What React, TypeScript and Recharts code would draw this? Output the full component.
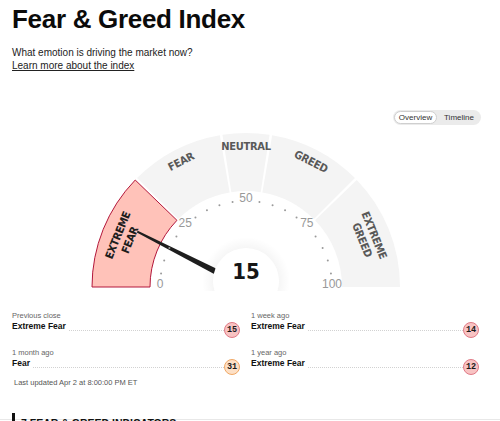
import React from "react";
import { PieChart, Pie, Cell, RadialBarChart, RadialBar, PolarAngleAxis } from "recharts";

const ZONE_NAMES = ["EXTREME FEAR", "FEAR", "NEUTRAL", "GREED", "EXTREME GREED"];
const ZONE_SPANS = [25, 20, 10, 20, 25];
const SCALE_TICKS = [0, 5, 10, 15, 20, 25, 30, 35, 40, 45, 50, 55, 60, 65, 70, 75, 80, 85, 90, 95, 100];
const SCALE_LABELS = [0, 25, 50, 75, 100];
const CURRENT_VALUE = 15;

const HISTORY_PERIODS = ["Previous close", "1 week ago", "1 month ago", "1 year ago"];
const HISTORY_RATINGS = ["Extreme Fear", "Extreme Fear", "Fear", "Extreme Fear"];
const HISTORY_VALUES = [15, 14, 31, 12];

const CX = 246;
const CY = 287;
const RAD = Math.PI / 180;
const SANS = "'Liberation Sans', Arial, sans-serif";
const NARROW = "'Liberation Sans Narrow', 'DejaVu Sans Condensed', sans-serif";

const polar = (cx: number, cy: number, r: number, deg: number) => ({
  x: cx + r * Math.cos(deg * RAD),
  y: cy - r * Math.sin(deg * RAD),
});

// which zone the current value falls into
let acc = 0;
const activeZone = ZONE_SPANS.findIndex((s) => (acc += s) > CURRENT_VALUE);

const zoneData = ZONE_SPANS.map((span, i) => ({ name: ZONE_NAMES[i], span }));
const needleData = [{ name: "now", value: CURRENT_VALUE }];

const badgeColors = (v: number) =>
  v < 25 ? { bg: "#f8c3c3", border: "#e07a86" } : v < 45 ? { bg: "#fde0c6", border: "#f0a865" } : { bg: "#eee", border: "#bbb" };

function renderZoneLabel(props: any) {
  const { cx, cy, midAngle, index } = props;
  const lines = ZONE_NAMES[index].split(" ");
  const radii = lines.length > 1 ? [138, 125] : [141];
  const rot = 90 - midAngle;
  const color = index === activeZone ? "#1d1d1d" : "#595959";
  return (
    <g>
      {lines.map((line, j) => {
        const p = polar(cx, cy, radii[j], midAngle);
        return (
          <text
            key={j}
            x={p.x}
            y={p.y}
            transform={`rotate(${rot} ${p.x} ${p.y})`}
            textAnchor="middle"
            dominantBaseline="central"
            fontFamily={NARROW}
            fontWeight={700}
            fontSize={11}
            letterSpacing={-0.3}
            fill={color}
          >
            {line}
          </text>
        );
      })}
    </g>
  );
}

function renderScaleTick(props: any) {
  const { x, y, payload } = props;
  if (SCALE_LABELS.includes(payload.value)) {
    return (
      <text x={x} y={y - 3} textAnchor="middle" dominantBaseline="central" fontFamily={SANS} fontSize={12} fill="#999">
        {payload.value}
      </text>
    );
  }
  return <circle cx={x} cy={y} r={1} fill="#9a9a9a" />;
}

function Needle(props: any) {
  const { cx, cy, endAngle, payload } = props;
  const a = endAngle;
  const px = Math.sin(a * RAD);
  const py = Math.cos(a * RAD);
  const base = polar(cx, cy, 20, a);
  const tip = polar(cx, cy, 122, a);
  const pts = [
    [base.x + px * 3.2, base.y + py * 3.2],
    [tip.x + px * 1, tip.y + py * 1],
    [tip.x - px * 1, tip.y - py * 1],
    [base.x - px * 3.2, base.y - py * 3.2],
  ]
    .map((p) => p.join(","))
    .join(" ");
  return (
    <g>
      <defs>
        <radialGradient id="hubShadow">
          <stop offset="0.72" stopColor="#000" stopOpacity={0.04} />
          <stop offset="1" stopColor="#000" stopOpacity={0} />
        </radialGradient>
      </defs>
      <polygon points={pts} fill="#1e1e1e" />
      <circle cx={cx} cy={cy - 6} r={44} fill="url(#hubShadow)" />
      <circle cx={cx} cy={cy - 6} r={33} fill="#fff" />
      <text
        x={cx}
        y={cy - 16}
        textAnchor="middle"
        dominantBaseline="central"
        fontFamily="'DejaVu Sans', sans-serif"
        fontStretch="condensed"
        fontWeight={700}
        fontSize={22}
        fill="#161616"
      >
        {payload.value}
      </text>
    </g>
  );
}

export default function App() {
  return (
    <div
      style={{
        position: "absolute",
        left: 0,
        top: 0,
        width: 500,
        height: 421,
        overflow: "hidden",
        background: "#fff",
        fontFamily: SANS,
        color: "#111",
      }}
    >
      <div style={{ position: "absolute", left: 12, top: 6, fontSize: 26, lineHeight: "26px", fontWeight: 700, letterSpacing: -0.3, color: "#0b0b0b" }}>
        Fear &amp; Greed Index
      </div>
      <div style={{ position: "absolute", left: 12, top: 47, fontSize: 10, lineHeight: "12px", color: "#222" }}>
        What emotion is driving the market now?
      </div>
      <div style={{ position: "absolute", left: 12, top: 60, fontSize: 10, lineHeight: "12px", color: "#222", textDecoration: "underline" }}>
        Learn more about the index
      </div>

      {/* overview / timeline toggle */}
      <div style={{ position: "absolute", left: 393, top: 110, width: 88, height: 15, borderRadius: 8, background: "#ebebeb", fontSize: 8 }}>
        <div
          style={{
            position: "absolute",
            left: 1,
            top: 1,
            width: 43,
            height: 13,
            boxSizing: "border-box",
            borderRadius: 7,
            background: "#fff",
            border: "1px solid #cfcfcf",
            textAlign: "center",
            lineHeight: "11px",
            color: "#333",
          }}
        >
          Overview
        </div>
        <div style={{ position: "absolute", left: 46, top: 1, width: 40, textAlign: "center", lineHeight: "13px", color: "#333" }}>Timeline</div>
      </div>

      <div style={{ position: "absolute", left: 0, top: 0 }}>
        <PieChart width={500} height={291} margin={{ top: 0, right: 0, bottom: 0, left: 0 }}>
          <Pie
            data={zoneData}
            dataKey="span"
            cx={CX}
            cy={CY}
            startAngle={180}
            endAngle={0}
            innerRadius={96}
            outerRadius={154}
            paddingAngle={1}
            label={renderZoneLabel}
            labelLine={false}
            isAnimationActive={false}
          >
            {zoneData.map((d, i) => (
              <Cell
                key={d.name}
                fill={i === activeZone ? "#ffc2b9" : "#f4f4f4"}
                stroke={i === activeZone ? "#b3173b" : "none"}
                strokeWidth={1}
              />
            ))}
          </Pie>
        </PieChart>
      </div>

      <div style={{ position: "absolute", left: 0, top: 0 }}>
        <RadialBarChart
          width={500}
          height={291}
          cx={CX}
          cy={CY}
          innerRadius={0}
          outerRadius={78}
          startAngle={180}
          endAngle={0}
          data={needleData}
          margin={{ top: 0, right: 0, bottom: 0, left: 0 }}
        >
          <PolarAngleAxis
            type="number"
            domain={[0, 100]}
            ticks={SCALE_TICKS as any}
            tickCount={21}
            tickSize={8}
            axisLine={false}
            tickLine={false}
            tick={renderScaleTick}
          />
          <RadialBar dataKey="value" shape={Needle} isAnimationActive={false} />
        </RadialBarChart>
      </div>

      {/* history */}
      {HISTORY_PERIODS.map((period, i) => {
        const col = i % 2;
        const row = Math.floor(i / 2);
        const c = badgeColors(HISTORY_VALUES[i]);
        return (
          <div key={period} style={{ position: "absolute", left: col ? 251 : 12, top: row ? 348 : 311, width: 228 }}>
            <div style={{ fontSize: 7.5, lineHeight: "9px", color: "#666" }}>{period}</div>
            <div style={{ display: "flex", alignItems: "flex-start", height: 12 }}>
              <div style={{ fontSize: 8.5, lineHeight: "12px", fontWeight: 700, whiteSpace: "nowrap", paddingRight: 3, color: "#111" }}>
                {HISTORY_RATINGS[i]}
              </div>
              <div style={{ flex: 1, height: 0, marginTop: 10, borderTop: "1px dotted #d2d2d2" }} />
              <div
                style={{
                  width: 16,
                  height: 16,
                  marginTop: 2,
                  flexShrink: 0,
                  boxSizing: "border-box",
                  borderRadius: "50%",
                  background: c.bg,
                  border: `1px solid ${c.border}`,
                  fontFamily: "'Liberation Mono', monospace",
                  fontWeight: 700,
                  fontSize: 8.5,
                  lineHeight: "14px",
                  textAlign: "center",
                  color: "#1a1a1a",
                }}
              >
                {HISTORY_VALUES[i]}
              </div>
            </div>
          </div>
        );
      })}

      <div style={{ position: "absolute", left: 14, top: 378, fontSize: 7.5, lineHeight: "9px", color: "#555" }}>
        Last updated Apr 2 at 8:00:00 PM ET
      </div>

      <div style={{ position: "absolute", left: 0, top: 419, width: 500, height: 1, background: "#e8e8e8" }} />
      <div style={{ position: "absolute", left: 12, top: 413, width: 3, height: 10, background: "#111" }} />
      <div style={{ position: "absolute", left: 21, top: 416.5, fontSize: 10.5, lineHeight: "12px", fontWeight: 700, color: "#111" }}>
        7 FEAR &amp; GREED INDICATORS
      </div>
    </div>
  );
}
